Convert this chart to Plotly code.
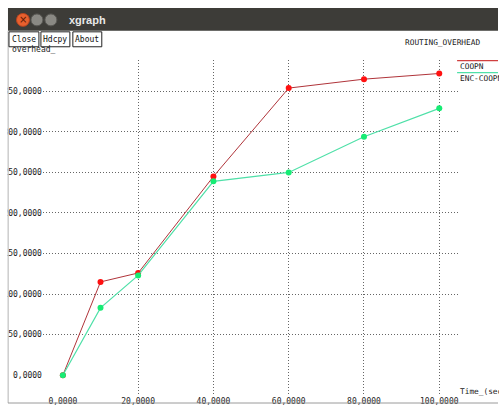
import plotly.graph_objects as go

# Routing overhead vs. simulation time
time_s = [0, 10, 20, 40, 60, 80, 100]
coopn = [0, 115, 126, 245, 354, 365, 372]
enc_coopn = [0, 83, 123, 239, 250, 294, 329]
series_names = ["COOPN", "ENC-COOPN"]

x_ticks = [0, 20, 40, 60, 80, 100]
y_ticks = [0, 50, 100, 150, 200, 250, 300, 350]
x_grid = [20, 40, 60, 80, 100]
y_grid = [50, 100, 150, 200, 250, 300, 350]

W, H = 499, 406
MONO = "DejaVu Sans Mono"


def px(x):
    return x / W


def py(y):
    return 1 - y / H


def fmt(v):
    return f"{v},0000"


fig = go.Figure()

fig.add_trace(go.Scatter(
    x=time_s, y=coopn, name=series_names[0], mode="lines+markers",
    line=dict(color="#b0343a", width=1),
    marker=dict(color="#ff1010", size=6, symbol="circle"),
))
fig.add_trace(go.Scatter(
    x=time_s, y=enc_coopn, name=series_names[1], mode="lines+markers",
    line=dict(color="#4fe0a8", width=1.2),
    marker=dict(color="#16ec74", size=6, symbol="circle"),
))

axis_common = dict(
    showline=False, zeroline=False, showgrid=False, ticks="",
    tickfont=dict(family=MONO, size=8, color="#222"),
)
grid_style = dict(showgrid=True, gridcolor="#666", griddash="1px,2px", gridwidth=1, ticks="")

fig.update_xaxes(
    domain=[px(43), px(459)], range=[-5.3, 105.0],
    tickmode="array", tickvals=x_ticks, ticktext=[fmt(v) for v in x_ticks],
    minor=dict(tickmode="array", tickvals=x_grid, **grid_style),
    **axis_common,
)
fig.update_yaxes(
    domain=[py(397), py(60)], range=[-24.5, 389],
    tickmode="array", tickvals=y_ticks, ticktext=[fmt(v) for v in y_ticks],
    minor=dict(tickmode="array", tickvals=y_grid, **grid_style),
    **axis_common,
)

shapes = []
annotations = []

# window title bar
shapes.append(dict(type="rect", xref="paper", yref="paper",
                   x0=px(8), x1=1, y0=py(31), y1=py(8),
                   fillcolor="#3d3c38", line=dict(width=0), layer="above"))
# window control buttons
shapes.append(dict(type="circle", xref="paper", yref="paper",
                   x0=px(16.5), x1=px(29.5), y0=py(26.5), y1=py(13.5),
                   fillcolor="#e8602e", line=dict(color="#b54420", width=1), layer="above"))
for cx in (37, 51):
    shapes.append(dict(type="circle", xref="paper", yref="paper",
                       x0=px(cx - 6), x1=px(cx + 6), y0=py(26), y1=py(14),
                       fillcolor="#8a8984", line=dict(color="#5a5955", width=1), layer="above"))
annotations.append(dict(text="×", x=px(23), y=py(20), xref="paper", yref="paper",
                        showarrow=False, font=dict(family="DejaVu Sans", size=10, color="#5a1a05"),
                        xanchor="center", yanchor="middle"))
annotations.append(dict(text="<b>xgraph</b>", x=px(67), y=py(20), xref="paper", yref="paper",
                        showarrow=False, font=dict(family="Liberation Sans", size=11, color="#e8e8e8"),
                        xanchor="left", yanchor="middle"))

# window frame
shapes.append(dict(type="line", xref="paper", yref="paper",
                   x0=px(8), x1=px(8), y0=py(405), y1=py(31),
                   line=dict(color="#9a9a9a", width=1), layer="above"))
shapes.append(dict(type="line", xref="paper", yref="paper",
                   x0=px(8), x1=1, y0=py(405), y1=py(405),
                   line=dict(color="#9a9a9a", width=1), layer="above"))
shapes.append(dict(type="rect", xref="paper", yref="paper",
                   x0=0, x1=px(7.5), y0=0, y1=py(31),
                   fillcolor="white", line=dict(width=0), layer="above"))

# y-axis name (partly under the buttons)
annotations.append(dict(text="overhead_", x=px(10), y=py(50), xref="paper", yref="paper",
                        showarrow=False, font=dict(family=MONO, size=8, color="#222"),
                        xanchor="left", yanchor="middle"))

# command buttons
buttons = [("Close", 9, 39), ("Hdcpy", 41, 70), ("About", 73, 102)]
for label, x0, x1 in buttons:
    shapes.append(dict(type="rect", xref="paper", yref="paper",
                       x0=px(x0), x1=px(x1), y0=py(47), y1=py(32),
                       fillcolor="white", line=dict(color="#222", width=1), layer="above"))
    annotations.append(dict(text=label, x=px((x0 + x1) / 2), y=py(39.5), xref="paper", yref="paper",
                            showarrow=False, font=dict(family=MONO, size=8, color="#111"),
                            xanchor="center", yanchor="middle"))

# chart title
annotations.append(dict(text="ROUTING_OVERHEAD", x=px(483), y=py(43), xref="paper", yref="paper",
                        showarrow=False, font=dict(family=MONO, size=7.8, color="#222"),
                        xanchor="right", yanchor="middle"))

# x-axis name
annotations.append(dict(text="Time_(sec)", x=px(459), y=py(393), xref="paper", yref="paper",
                        showarrow=False, font=dict(family=MONO, size=7.8, color="#222"),
                        xanchor="left", yanchor="middle"))

# legend: colored line above each series name
legend_rows = [(series_names[0], "#d04040", 61, 67), (series_names[1], "#4fe0a8", 73, 79)]
for name, color, ly, ty in legend_rows:
    shapes.append(dict(type="line", xref="paper", yref="paper",
                       x0=px(458), x1=1, y0=py(ly), y1=py(ly),
                       line=dict(color=color, width=1.2), layer="above"))
    annotations.append(dict(text=name, x=px(459), y=py(ty), xref="paper", yref="paper",
                            showarrow=False, font=dict(family=MONO, size=7.8, color="#222"),
                            xanchor="left", yanchor="middle"))

fig.update_layout(
    width=W, height=H, margin=dict(l=0, r=0, t=0, b=0),
    paper_bgcolor="white", plot_bgcolor="white",
    showlegend=False, shapes=shapes, annotations=annotations,
)

fig.write_html("out.html")
